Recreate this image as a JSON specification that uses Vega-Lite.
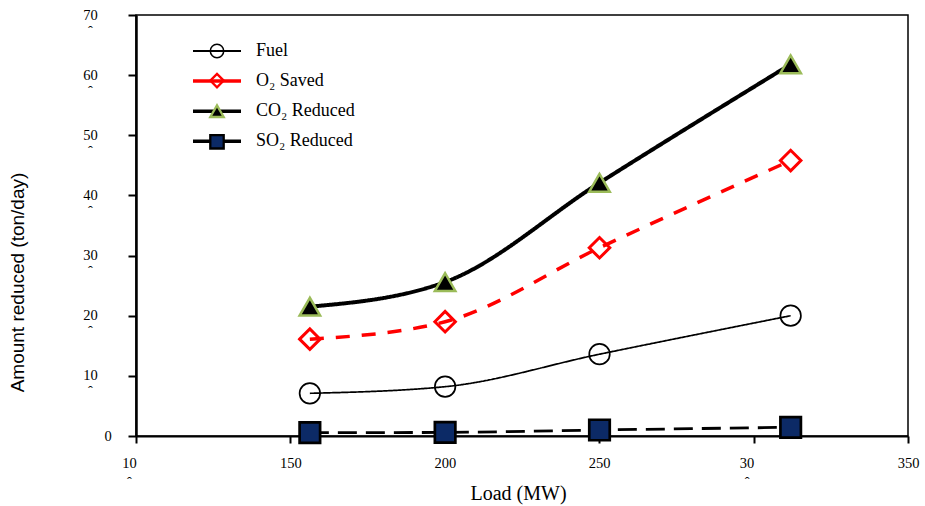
{
  "$schema": "https://vega.github.io/schema/vega-lite/v6.json",
  "width": 772,
  "height": 421,
  "autosize": {"type": "none"},
  "padding": {"left": 136, "top": 15, "right": 17, "bottom": 70},
  "background": "white",
  "config": {
    "view": {"stroke": "black", "strokeWidth": 1.5},
    "font": "Liberation Serif"
  },
  "data": {
    "values": [
      {"load": 156.3, "amount": 7.1, "series": "Fuel"},
      {"load": 200.1, "amount": 8.2, "series": "Fuel"},
      {"load": 250.1, "amount": 13.6, "series": "Fuel"},
      {"load": 312, "amount": 20.0, "series": "Fuel"},
      {"load": 156.3, "amount": 16.1, "series": "O₂ Saved"},
      {"load": 200.1, "amount": 19.0, "series": "O₂ Saved"},
      {"load": 250.1, "amount": 31.3, "series": "O₂ Saved"},
      {"load": 312, "amount": 45.8, "series": "O₂ Saved"},
      {"load": 156.3, "amount": 21.5, "series": "CO₂ Reduced"},
      {"load": 200.1, "amount": 25.6, "series": "CO₂ Reduced"},
      {"load": 250.1, "amount": 42.1, "series": "CO₂ Reduced"},
      {"load": 312, "amount": 61.8, "series": "CO₂ Reduced"},
      {"load": 156.3, "amount": 0.55, "series": "SO₂ Reduced"},
      {"load": 200.1, "amount": 0.6, "series": "SO₂ Reduced"},
      {"load": 250.1, "amount": 1.0, "series": "SO₂ Reduced"},
      {"load": 312, "amount": 1.45, "series": "SO₂ Reduced"}
    ]
  },
  "encoding": {
    "x": {
      "field": "load",
      "type": "quantitative",
      "scale": {"domain": [100, 350], "nice": false},
      "axis": {
        "values": [100, 150, 200, 250, 300, 350],
        "grid": false,
        "title": "Load (MW)",
        "titleFont": "Liberation Serif",
        "titleFontSize": 20,
        "titleFontWeight": "normal",
        "titleColor": "black",
        "titleX": 382,
        "titleY": 57,
        "titleBaseline": "middle",
        "labelExpr": "datum.value === 100 ? ['10', 'ˆ'] : datum.value === 300 ? ['30', 'ˆ'] : datum.label",
        "labelOffset": {"condition": {"test": "datum.value === 100 || datum.value === 300", "value": -7}, "value": 0},
        "labelFlush": false,
        "labelOverlap": false,
        "labelPadding": 13,
        "labelLineHeight": 19.5,
        "labelFont": "Liberation Serif",
        "labelFontSize": 14.5,
        "labelColor": "black",
        "tickColor": "black",
        "tickSize": 7,
        "tickWidth": 2,
        "domainColor": "black",
        "domainWidth": 2
      }
    },
    "y": {
      "field": "amount",
      "type": "quantitative",
      "scale": {"domain": [0, 70], "nice": false},
      "axis": {
        "values": [0, 10, 20, 30, 40, 50, 60, 70],
        "grid": false,
        "title": "Amount reduced (ton/day)",
        "titleFont": "Liberation Sans",
        "titleFontSize": 19,
        "titleFontWeight": "normal",
        "titleColor": "black",
        "titleX": -119,
        "titleY": 267,
        "titleAngle": -90,
        "titleAlign": "center",
        "titleBaseline": "middle",
        "labelExpr": "datum.value === 0 ? ['0', ''] : [datum.label, 'ˆ']",
        "labelAlign": "center",
        "labelBaseline": "middle",
        "labelLineHeight": 16,
        "labelPadding": {"condition": {"test": "datum.value === 0", "value": 20.5}, "value": 38},
        "labelOverlap": false,
        "labelFont": "Liberation Serif",
        "labelFontSize": 14.5,
        "labelColor": "black",
        "tickColor": "black",
        "tickSize": 8,
        "tickWidth": 2,
        "domainColor": "black",
        "domainWidth": 2.5
      }
    }
  },
  "layer": [
    {
      "mark": {"type": "line", "interpolate": "monotone"},
      "encoding": {
        "color": {
          "field": "series",
          "type": "nominal",
          "scale": {
            "domain": ["Fuel", "O₂ Saved", "CO₂ Reduced", "SO₂ Reduced"],
            "range": ["black", "red", "black", "black"]
          },
          "legend": {
            "orient": "none", "legendX": 72, "legendY": 27, "title": null, "padding": 0,
            "symbolType": "M-4,0H4", "symbolSize": 144, "rowPadding": 12.1,
            "symbolStrokeWidth": {"expr": "datum.value === 'Fuel' ? 2 : 3.5"},
            "labelOffset": 30, "labelFont": "Liberation Serif", "labelFontSize": 18,
            "labelColor": "black", "labelLimit": 300
          }
        },
        "strokeDash": {
          "condition": [
            {"test": "datum.series === 'O₂ Saved'", "value": [14, 12]},
            {"test": "datum.series === 'SO₂ Reduced'", "value": [19, 9]}
          ],
          "value": [1, 0]
        },
        "strokeWidth": {
          "condition": [
            {"test": "datum.series === 'Fuel'", "value": 1.7},
            {"test": "datum.series === 'O₂ Saved'", "value": 3.5},
            {"test": "datum.series === 'CO₂ Reduced'", "value": 4}
          ],
          "value": 2.8
        }
      }
    },
    {
      "mark": {"type": "point", "opacity": 1, "size": 420},
      "encoding": {
        "shape": {
          "field": "series",
          "type": "nominal",
          "sort": ["Fuel", "O₂ Saved", "CO₂ Reduced", "SO₂ Reduced"],
          "scale": {"range": ["circle", "diamond", "triangle-up", "square"]},
          "legend": {
            "orient": "none", "legendX": 72, "legendY": 27, "title": null, "padding": 0,
            "symbolSize": 180, "rowPadding": 7.6,
            "symbolFillColor": {"expr": "scale('fill', datum.value)"},
            "symbolStrokeColor": {"expr": "scale('stroke', datum.value)"},
            "symbolStrokeWidth": {"expr": "datum.value === 'Fuel' ? 1.5 : 2.3"},
            "labelExpr": "''", "labelFont": "Liberation Serif", "labelFontSize": 18
          }
        },
        "fill": {
          "field": "series",
          "type": "nominal",
          "sort": ["Fuel", "O₂ Saved", "CO₂ Reduced", "SO₂ Reduced"],
          "scale": {"range": ["transparent", "transparent", "black", "#0c2a66"]},
          "legend": null
        },
        "stroke": {
          "field": "series",
          "type": "nominal",
          "sort": ["Fuel", "O₂ Saved", "CO₂ Reduced", "SO₂ Reduced"],
          "scale": {"range": ["black", "red", "#9bbb59", "black"]},
          "legend": null
        },
        "strokeWidth": {
          "condition": [
            {"test": "datum.series === 'Fuel'", "value": 1.7},
            {"test": "datum.series === 'O₂ Saved'", "value": 3},
            {"test": "datum.series === 'CO₂ Reduced'", "value": 2.5}
          ],
          "value": 2.7
        }
      }
    }
  ]
}
